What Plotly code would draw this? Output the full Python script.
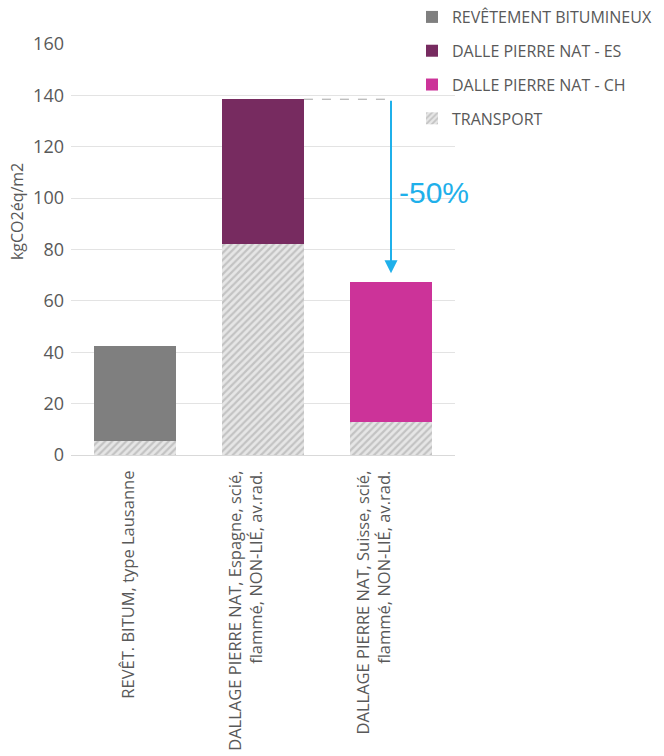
import plotly.graph_objects as go

categories = [
    "REVÊT. BITUM, type Lausanne",
    "DALLAGE PIERRE NAT, Espagne, scié,<br>flammé, NON-LIÉ, av.rad.<br> ",
    "DALLAGE PIERRE NAT, Suisse, scié,<br>flammé, NON-LIÉ, av.rad.<br> ",
]
transport = [5.5, 82, 13]
revetement_bitumineux = [37, 0, 0]
dalle_es = [0, 56.5, 0]
dalle_ch = [0, 0, 54.5]
reduction_label = "-50%"
y_title = "kgCO2éq/m2"

GRAY_TXT = "#595959"
FONT = "Open Sans"

fig = go.Figure()
fig.add_trace(go.Bar(
    x=categories, y=transport, name="TRANSPORT", legendrank=4,
    marker=dict(color="#ffffff", line=dict(width=0),
                pattern=dict(shape="/", fgcolor="#a0a0a0", bgcolor="#e6e6e6", size=5, solidity=0.45)),
))
fig.add_trace(go.Bar(x=categories, y=revetement_bitumineux, name="REVÊTEMENT BITUMINEUX",
                     legendrank=1, marker=dict(color="#7f7f7f", line=dict(width=0))))
fig.add_trace(go.Bar(x=categories, y=dalle_es, name="DALLE PIERRE NAT - ES",
                     legendrank=2, marker=dict(color="#772b60", line=dict(width=0))))
fig.add_trace(go.Bar(x=categories, y=dalle_ch, name="DALLE PIERRE NAT - CH",
                     legendrank=3, marker=dict(color="#cc3399", line=dict(width=0))))
for i, t in enumerate(fig.data):
    t.legendgroup = f"g{i}"

total_es = transport[1] + dalle_es[1]
total_ch = transport[2] + dalle_ch[2]

# dashed reference line from top of bar 2 to arrow
fig.add_shape(type="line", xref="x", yref="y", x0=1.32, x1=2, y0=total_es, y1=total_es,
              line=dict(color="#a6a6a6", width=1, dash="dash"))
# arrow
fig.add_annotation(xref="x", yref="y", axref="x", ayref="y", x=2, y=total_ch + 3.3,
                   ax=2, ay=total_es, showarrow=True, arrowhead=2, arrowsize=1.3,
                   arrowwidth=2, arrowcolor="#1fb0ea", text="")
fig.add_annotation(xref="x", yref="y", x=2, y=102, xanchor="left", xshift=6,
                   text=reduction_label, showarrow=False,
                   font=dict(family="Liberation Sans", size=30, color="#1fb0ea"))
# y axis title
fig.add_annotation(xref="paper", yref="paper", x=-71 / 384 + 17 / 384, y=0.591,
                   xanchor="center", yanchor="middle", textangle=-90, showarrow=False,
                   text=y_title, font=dict(family=FONT, size=16, color=GRAY_TXT))

fig.update_layout(
    width=664, height=756,
    margin=dict(l=71, r=209, t=44, b=301, autoexpand=False),
    barmode="stack", bargap=0.36,
    plot_bgcolor="white", paper_bgcolor="white",
    font=dict(family=FONT, color=GRAY_TXT, size=14),
    showlegend=True,
    legend=dict(x=0.888, y=1.107, xanchor="left", yanchor="top",
                font=dict(family=FONT, size=16, color=GRAY_TXT),
                tracegroupgap=10, itemwidth=30, bgcolor="rgba(0,0,0,0)"),
    xaxis=dict(tickangle=-90, tickfont=dict(family=FONT, size=16.5, color=GRAY_TXT),
               range=[-0.5, 2.5], ticklabelstandoff=8, ticklabelshift=-6,
               showline=True, linecolor="#d9d9d9", ticks="", showgrid=False,
               automargin=False),
    yaxis=dict(range=[0, 160], dtick=20, showgrid=True, gridcolor="#e3e3e3",
               zeroline=False, ticks="", ticklabelstandoff=6, automargin=False,
               tickfont=dict(family=FONT, size=18, color=GRAY_TXT)),
)

fig.write_html("out.html")
